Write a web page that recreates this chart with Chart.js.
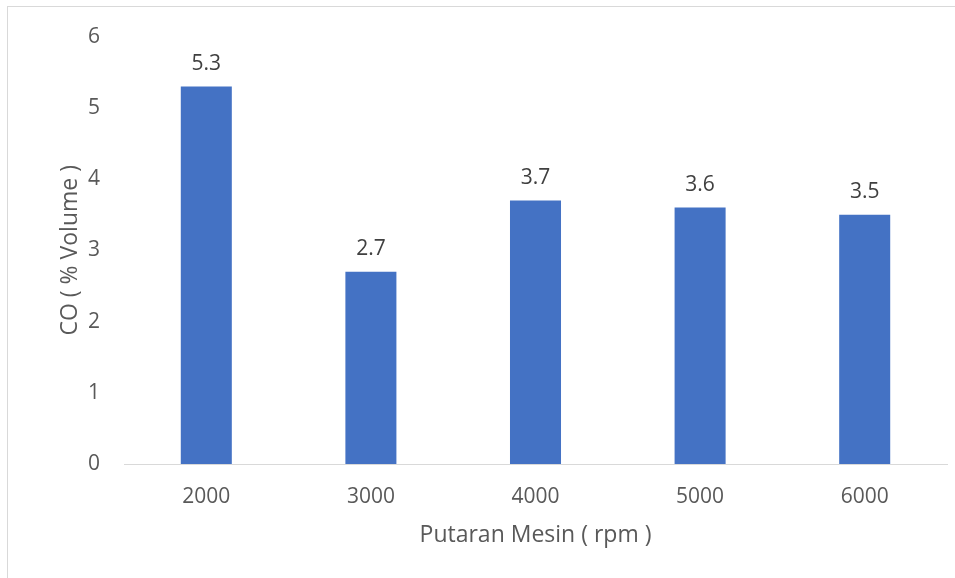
<!DOCTYPE html>
<html>
<head>
<meta charset="utf-8">
<script src="https://cdn.jsdelivr.net/npm/chart.js@4"></script>
<style>
  html, body { margin: 0; padding: 0; background: #fff; }
  #wrap { position: relative; width: 955px; height: 578px; overflow: hidden; }
  #frame { position: absolute; left: 7px; top: 6px; width: 1000px; height: 700px;
           border: 1px solid #d9d9d9; box-sizing: border-box; }
  canvas { position: absolute; left: 0; top: 0; }
</style>
</head>
<body>
<div id="wrap">
  <div id="frame"></div>
  <canvas id="c" width="955" height="578"></canvas>
</div>
<script>
// Engine speed (rpm) vs. CO emission (% volume)
const categories = ['2000', '3000', '4000', '5000', '6000'];
const coValues = [5.3, 2.7, 3.7, 3.6, 3.5];
const yTicks = [0, 1, 2, 3, 4, 5, 6];

const FONT = "'Open Sans', sans-serif";
const TEXT = '#595959';

// Writes each bar's value above it
const valueLabels = {
  id: 'valueLabels',
  afterDatasetsDraw(chart) {
    const ctx = chart.ctx;
    const meta = chart.getDatasetMeta(0);
    ctx.save();
    ctx.font = '21px ' + FONT;
    ctx.fillStyle = '#404040';
    ctx.textAlign = 'center';
    ctx.textBaseline = 'bottom';
    meta.data.forEach((bar, i) => {
      ctx.fillText(String(coValues[i]), bar.x, bar.y - 12);
    });
    ctx.restore();
  }
};

new Chart(document.getElementById('c'), {
  type: 'bar',
  data: {
    labels: categories,
    datasets: [{
      data: coValues,
      backgroundColor: '#4472C4',
      borderWidth: 0,
      barPercentage: 0.31,
      categoryPercentage: 1.0
    }]
  },
  options: {
    responsive: false,
    animation: false,
    layout: { padding: { left: 0, right: 8, top: 35, bottom: 0 } },
    plugins: { legend: { display: false }, tooltip: { enabled: false } },
    scales: {
      x: {
        grid: { display: false, drawTicks: false },
        border: { display: true, color: '#d9d9d9', width: 1 },
        ticks: { color: TEXT, font: { family: FONT, size: 21 }, padding: 20 },
        title: {
          display: true, text: 'Putaran Mesin ( rpm )', color: TEXT,
          font: { family: FONT, size: 23 }, padding: { top: 0, bottom: 29 }
        },
        afterFit(scale) { scale.height = 114; }
      },
      y: {
        min: 0, max: 6,
        grid: { display: false, drawTicks: false },
        border: { display: false },
        afterBuildTicks(scale) { scale.ticks = yTicks.map(v => ({ value: v })); },
        ticks: { color: TEXT, font: { family: FONT, size: 21 }, padding: 24 },
        title: {
          display: true, text: 'CO ( % Volume )', color: TEXT,
          font: { family: FONT, size: 23 }, padding: { top: 57, bottom: 0 }
        },
        afterFit(scale) { scale.width = 124; }
      }
    }
  },
  plugins: [valueLabels]
});
</script>
</body>
</html>
